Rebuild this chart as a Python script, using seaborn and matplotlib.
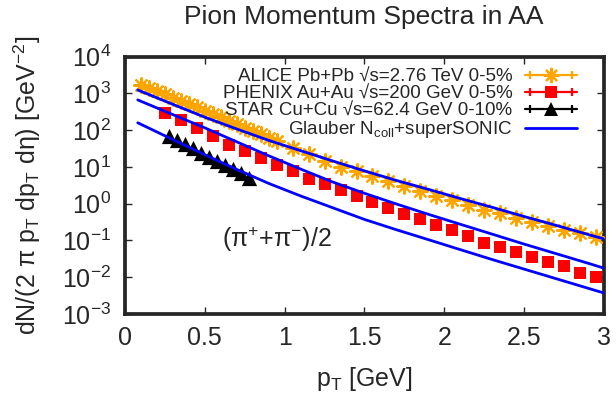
import numpy as np
import pandas as pd
import seaborn as sns
import matplotlib
matplotlib.use('Agg')
from matplotlib import pyplot as plt
from matplotlib.lines import Line2D
from matplotlib.legend_handler import HandlerLine2D, HandlerTuple

# ALICE Pb+Pb 2.76 TeV 0-5%
pt_alice = [0.10, 0.15, 0.20, 0.25, 0.30, 0.35, 0.40, 0.45, 0.50, 0.55, 0.60, 0.65, 0.70,
            0.75, 0.80, 0.85, 0.90, 0.95, 1.05, 1.15, 1.25, 1.35, 1.45, 1.55, 1.65, 1.75,
            1.85, 1.95, 2.05, 2.15, 2.25, 2.35, 2.45, 2.55, 2.65, 2.75, 2.85, 2.95]
alice_vals = [1660, 1380, 1120, 933, 759, 631, 513, 417, 339, 275, 224, 182, 145,
              117, 95.5, 75.9, 61.7, 50.1, 33.1, 21.9, 14.8, 10.2, 7.59, 5.50, 4.03, 3.08,
              2.19, 1.64, 1.23, 0.933, 0.692, 0.550, 0.407, 0.309, 0.251, 0.195, 0.158, 0.123]

# PHENIX Au+Au 200 GeV 0-5%
pt_phenix = [0.25, 0.35, 0.45, 0.55, 0.65, 0.75, 0.85, 0.95, 1.05, 1.15, 1.25, 1.35, 1.45, 1.55,
             1.65, 1.75, 1.85, 1.95, 2.05, 2.15, 2.25, 2.35, 2.45, 2.55, 2.65, 2.75, 2.85, 2.95]
phenix_vals = [294, 193, 115, 67.8, 40.3, 26.4, 17.5, 11.5, 7.53, 4.76, 3.48, 2.29, 1.57, 1.08,
               0.759, 0.531, 0.380, 0.261, 0.191, 0.131, 0.0843, 0.0656, 0.0480, 0.0351,
               0.0256, 0.0200, 0.0129, 0.0100]

# STAR Cu+Cu 62.4 GeV 0-10%
pt_star = [0.275, 0.325, 0.375, 0.425, 0.475, 0.525, 0.575, 0.625, 0.675, 0.725, 0.775]
star_vals = [67.6, 52.5, 40.7, 31.6, 24.5, 19.1, 14.5, 11.2, 8.71, 6.61, 5.13]

# Glauber Ncoll + superSONIC curves
pt_model = [0.08, 0.3, 0.5, 0.7, 0.9, 1.1, 1.3, 1.5, 1.7, 1.9, 2.1, 2.3, 2.5, 2.7, 2.9, 3.0]
model_alice = [1230, 501, 224, 107, 52.5, 27.5, 14.5, 7.76, 4.27, 2.45, 1.38, 0.794,
               0.447, 0.257, 0.145, 0.110]
model_phenix = [661, 263, 115, 47.9, 20.0, 8.71, 3.89, 1.91, 0.977, 0.513, 0.275, 0.148,
                0.0794, 0.0437, 0.0240, 0.0176]
model_star = [158, 55.0, 21.4, 8.51, 3.55, 1.62, 0.776, 0.372, 0.195, 0.105, 0.0562,
              0.0302, 0.0166, 0.00912, 0.00501, 0.00372]

labels = ['ALICE Pb+Pb √s=2.76 TeV 0-5%',
          'PHENIX Au+Au √s=200 GeV 0-5%',
          'STAR Cu+Cu √s=62.4 GeV 0-10%',
          'Glauber N$_{coll}$+superSONIC']

sns.set_style('ticks')
plt.rcParams['font.family'] = ['Liberation Sans', 'DejaVu Sans']
plt.rcParams['mathtext.fontset'] = 'custom'
plt.rcParams['mathtext.rm'] = 'Liberation Sans'
plt.rcParams['mathtext.it'] = 'Liberation Sans:italic'
plt.rcParams['mathtext.bf'] = 'Liberation Sans:bold'
plt.rcParams['mathtext.default'] = 'regular'
plt.rcParams['axes.unicode_minus'] = False

fig = plt.figure(figsize=(6.16, 4.04), dpi=100)
ax = fig.add_axes([0.2029, 0.2228, 0.7776, 0.6373])

df_alice = pd.DataFrame({'pt': pt_alice, 'y': alice_vals})
df_phenix = pd.DataFrame({'pt': pt_phenix, 'y': phenix_vals})
df_star = pd.DataFrame({'pt': pt_star, 'y': star_vals})
df_model = pd.DataFrame({'pt': pt_model, 'alice': model_alice,
                         'phenix': model_phenix, 'star': model_star})

orange = '#FFA500'
sns.scatterplot(data=df_alice, x='pt', y='y', ax=ax, marker=(8, 2, 0), s=110,
                color=orange, linewidth=1.6, zorder=3)
sns.scatterplot(data=df_phenix, x='pt', y='y', ax=ax, marker='s', s=70,
                color='red', linewidth=0, zorder=3)
sns.scatterplot(data=df_star, x='pt', y='y', ax=ax, marker='^', s=120,
                color='black', linewidth=0, zorder=3)
for col in ['alice', 'phenix', 'star']:
    sns.lineplot(data=df_model, x='pt', y=col, ax=ax, color='blue', lw=2, zorder=4)

ax.set_yscale('log')
ax.set_xlim(0, 3)
ax.set_ylim(1e-3, 1e4)
ax.set_xticks([0, 0.5, 1, 1.5, 2, 2.5, 3])
ax.set_xticklabels(['0', '0.5', '1', '1.5', '2', '2.5', '3'])
ax.set_yticks([10.0 ** k for k in range(-3, 5)])
ax.minorticks_off()
ax.tick_params(which='both', direction='in', top=True, right=True, length=5, width=1,
               labelsize=18)
ax.tick_params(axis='x', pad=9)
ax.tick_params(axis='y', pad=10)
for sp in ax.spines.values():
    sp.set_linewidth(2.7)

ax.set_xlabel('p$_{T}$ [GeV]', fontsize=18)
ax.set_ylabel('dN/(2 π p$_{T}$ dp$_{T}$ dη) [GeV$^{-2}$]', fontsize=18)
ax.xaxis.set_label_coords(0.5, -0.2)
ax.yaxis.set_label_coords(-0.171, 0.5)

fig.text(0.591, 0.958, 'Pion Momentum Spectra in AA', fontsize=19, ha='center', va='center')
ax.text(0.61, 10 ** -0.98, '(π$^{+}$+π$^{-}$)/2', fontsize=18, ha='left', va='center')

# legend, gnuplot style: text right-aligned, sample with error bar caps
handles = []
cap_map = {}
for c, m, ms in [(orange, (8, 2, 0), 11), ('red', 's', 8), ('black', '^', 10)]:
    main = Line2D([], [], color=c, lw=1.6, marker=m, ms=ms, mew=1.6 if c == orange else 0,
                  mfc=c, mec=c)
    caps = Line2D([], [], color=c, ls='none', marker='|', ms=6, mew=1.6)
    cap_map[caps] = HandlerLine2D(numpoints=2)
    handles.append((main, caps))
handles.append(Line2D([], [], color='blue', lw=2))
cap_map[tuple] = HandlerTuple(ndivide=1, pad=0)
leg = ax.legend(handles, labels, loc='upper right', bbox_to_anchor=(0.944, 0.955),
                frameon=False, fontsize=13.5, markerfirst=False, handlelength=2.8,
                handletextpad=0.65, labelspacing=0.0, borderpad=0, borderaxespad=0,
                numpoints=1, handler_map=cap_map)

fig.savefig('out.png', dpi=100)
